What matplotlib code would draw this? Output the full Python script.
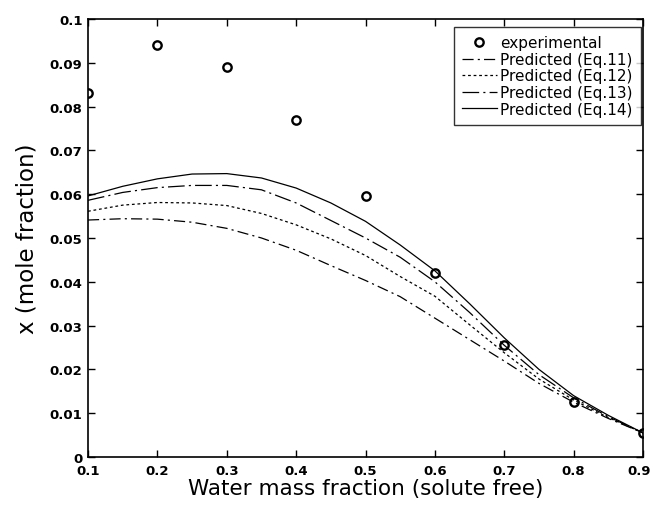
import matplotlib
matplotlib.use("Agg")
import matplotlib.pyplot as plt
import matplotlib.transforms as mtransforms
import numpy as np

plt.rcParams['font.family'] = ['DejaVu Sans']
plt.rcParams['lines.scale_dashes'] = False

# experimental points
x_exp = [0.1, 0.2, 0.3, 0.4, 0.5, 0.6, 0.7, 0.8, 0.9]
y_exp = [0.083, 0.094, 0.089, 0.077, 0.0595, 0.042, 0.0255, 0.0125, 0.0055]

# predicted curves
x_pred = [0.1, 0.15, 0.2, 0.25, 0.3, 0.35, 0.4, 0.45, 0.5,
          0.55, 0.6, 0.65, 0.7, 0.75, 0.8, 0.85, 0.9]
eq11 = [0.0541, 0.0544, 0.0543, 0.0536, 0.0522, 0.0500, 0.0472, 0.0437, 0.0403,
        0.0366, 0.0317, 0.0268, 0.0219, 0.0168, 0.0125, 0.0088, 0.0055]
eq12 = [0.0561, 0.0575, 0.0581, 0.0580, 0.0574, 0.0556, 0.0530, 0.0498, 0.0460,
        0.0412, 0.0367, 0.0302, 0.0238, 0.0178, 0.0130, 0.0090, 0.0055]
eq13 = [0.0586, 0.0604, 0.0615, 0.0620, 0.0620, 0.0610, 0.0580, 0.0540, 0.0500,
        0.0456, 0.0400, 0.0330, 0.0255, 0.0188, 0.0135, 0.0092, 0.0055]
eq14 = [0.0596, 0.0618, 0.0635, 0.0646, 0.0647, 0.0637, 0.0614, 0.0580, 0.0538,
        0.0484, 0.0425, 0.0350, 0.0272, 0.0200, 0.0140, 0.0095, 0.0055]

xtick_labels = ['0.1', '0.2', '0.3', '0.4', '0.5', '0.6', '0.7', '0.8', '0.9']
ytick_labels = ['0', '0.01', '0.02', '0.03', '0.04', '0.05', '0.06', '0.07', '0.08', '0.09', '0.1']

fig = plt.figure(figsize=(6.53, 5.06), dpi=100)
ax = fig.add_axes([0.1348, 0.0949, 0.8499, 0.8656])

ax.plot(x_exp, y_exp, 'o', mfc='none', mec='black', mew=1.7, ms=6, label='experimental')
ax.plot(x_pred, eq11, color='black', lw=0.9, dashes=(8, 3, 1.5, 3), label='Predicted (Eq.11)')
ax.plot(x_pred, eq12, color='black', lw=0.9, dashes=(2, 2), label='Predicted (Eq.12)')
ax.plot(x_pred, eq13, color='black', lw=0.9, dashes=(12, 3, 1.5, 3), label='Predicted (Eq.13)')
ax.plot(x_pred, eq14, color='black', lw=0.9, label='Predicted (Eq.14)')

ax.set_xlim(0.1, 0.9)
ax.set_ylim(0, 0.1)
ax.set_xticks(np.arange(0.1, 0.91, 0.1))
ax.set_yticks(np.arange(0, 0.101, 0.01))
ax.set_xticklabels(xtick_labels)
ax.set_yticklabels(ytick_labels)
ax.tick_params(direction='in', top=True, right=True, length=5, width=1, labelsize=9.5)
ax.tick_params(axis='x', pad=5)
ax.tick_params(axis='y', pad=4)
for lab in ax.get_xticklabels() + ax.get_yticklabels():
    lab.set_fontweight('bold')
# keep the last x label inside the figure
last = ax.get_xticklabels()[-1]
last.set_transform(last.get_transform() + mtransforms.ScaledTranslation(-4 / 100, 0, fig.dpi_scale_trans))
for s in ax.spines.values():
    s.set_linewidth(1.2)

ax.set_xlabel('Water mass fraction (solute free)', fontsize=15.5, labelpad=1)
ax.set_ylabel('x (mole fraction)', fontsize=16.5, labelpad=8)

leg = ax.legend(loc='upper right', bbox_to_anchor=(0.9964, 0.9817), borderaxespad=0,
                fontsize=11, frameon=True, fancybox=False, edgecolor='black',
                handlelength=2.3, labelspacing=0.1, borderpad=0.55, handletextpad=0.2)
leg.get_frame().set_linewidth(1.0)

fig.savefig('out.png', dpi=100)
